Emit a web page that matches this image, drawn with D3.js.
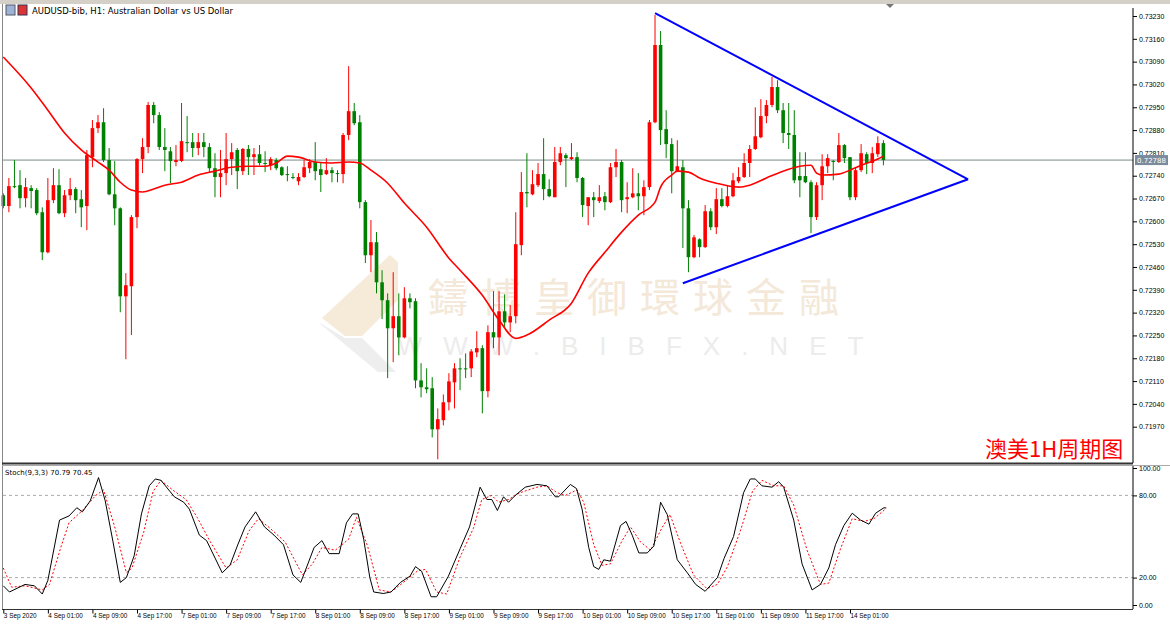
<!DOCTYPE html>
<html>
<head>
<meta charset="utf-8">
<script src="https://cdn.jsdelivr.net/npm/d3@7"></script>
<style>
  body { margin: 0; background: #fff; }
  svg { display: block; font-family: Tahoma, "DejaVu Sans", sans-serif; }
</style>
</head>
<body>
<svg width="1170" height="625"></svg>
<script>
// prices in points (1e-5), one bar per hour
let opens = [72680,72647,72708,72711,72671,72702,72696,72628,72505,72665,72711,72625,72680,72699,72668,72647,72797,72886,72904,72788,
  72683,72640,72370,72401,72613,72791,72828,72957,72926,72828,72815,72782,72785,72843,72843,72825,72843,72828,72763,72736,
  72748,72791,72819,72754,72822,72797,72806,72779,72772,72788,72766,72745,72736,72723,72736,72763,72782,72760,72745,72757,
  72748,72745,72865,72938,72904,72659,72496,72536,72413,72358,72272,72309,72244,72364,72355,72112,72091,72088,71962,71990,
  72045,72106,72149,72149,72149,72198,72211,72079,72260,72244,72324,72290,72309,72527,72690,72683,72711,72745,72699,72674,
  72782,72803,72791,72797,72733,72647,72674,72662,72677,72659,72766,72782,72668,72674,72686,72677,72705,72904,73141,72883,
  72837,72754,72766,72640,72490,72545,72521,72631,72582,72668,72647,72677,72723,72736,72779,72822,72858,72923,72957,73012,
  72941,72871,72865,72739,72739,72720,72613,72711,72769,72785,72782,72834,72797,72674,72757,72806,72779,72806,72840]
let closes = [72647,72708,72705,72671,72705,72693,72625,72505,72665,72711,72625,72680,72699,72665,72643,72803,72886,72904,72788,72683,
  72640,72370,72404,72613,72791,72828,72957,72926,72828,72819,72785,72788,72846,72840,72825,72843,72828,72763,72736,72748,
  72791,72812,72754,72822,72797,72806,72779,72776,72791,72763,72742,72742,72734,72736,72766,72782,72754,72742,72757,72748,
  72745,72865,72938,72901,72659,72496,72536,72413,72358,72272,72309,72244,72364,72352,72112,72091,72085,71962,71993,72045,
  72109,72149,72146,72146,72201,72211,72079,72260,72244,72324,72290,72309,72530,72690,72686,72714,72745,72699,72677,72782,
  72809,72794,72797,72733,72650,72674,72665,72674,72659,72766,72782,72665,72674,72686,72677,72705,72904,73141,72880,72837,
  72754,72769,72640,72490,72551,72521,72631,72582,72668,72647,72677,72726,72736,72779,72822,72861,72923,72957,73012,72941,
  72871,72865,72726,72726,72720,72613,72711,72769,72794,72782,72834,72794,72674,72757,72809,72779,72809,72840,72788]
let highs = [72686,72733,72788,72757,72733,72711,72702,72643,72733,72763,72760,72696,72733,72705,72696,72819,72911,72926,72947,72825,
  72785,72643,72441,72619,72794,72855,72966,72966,72935,72886,72828,72834,72963,72923,72871,72871,72871,72840,72809,72819,
  72871,72840,72825,72825,72834,72825,72834,72815,72797,72794,72769,72769,72748,72748,72788,72791,72843,72779,72794,72766,
  72757,72871,73076,72963,72926,72665,72604,72567,72450,72379,72444,72379,72398,72379,72364,72165,72149,72122,72026,72069,
  72134,72165,72180,72195,72208,72263,72220,72281,72386,72386,72376,72343,72628,72751,72809,72757,72779,72855,72729,72828,
  72828,72809,72840,72812,72736,72674,72690,72711,72690,72779,72822,72788,72720,72763,72748,72726,72911,73233,73184,72941,
  72855,72849,72788,72665,72558,72548,72650,72640,72702,72702,72711,72748,72766,72809,72834,72950,72975,72972,73043,73033,
  72963,72963,72941,72812,72812,72726,72720,72806,72806,72788,72871,72837,72797,72766,72837,72812,72828,72861,72849]
let lows = [72640,72628,72702,72640,72643,72640,72619,72481,72502,72656,72622,72613,72665,72625,72582,72573,72766,72871,72782,72680,
  72588,72321,72177,72251,72579,72748,72809,72901,72819,72754,72717,72769,72782,72812,72797,72803,72797,72748,72674,72674,
  72711,72742,72699,72742,72742,72742,72772,72751,72757,72757,72739,72723,72729,72711,72733,72748,72726,72690,72742,72720,
  72720,72717,72849,72895,72640,72472,72444,72379,72300,72119,72168,72189,72241,72333,72088,72060,72073,71937,71870,71974,
  72020,72026,72082,72119,72122,72183,72011,72060,72211,72189,72275,72260,72287,72496,72643,72680,72705,72665,72674,72674,
  72772,72705,72788,72720,72613,72588,72613,72656,72634,72656,72736,72628,72625,72671,72634,72619,72696,72901,72834,72794,
  72686,72751,72518,72444,72487,72490,72518,72573,72561,72643,72643,72674,72717,72733,72736,72819,72855,72901,72950,72932,
  72840,72822,72717,72674,72717,72564,72604,72665,72748,72726,72779,72779,72665,72665,72751,72745,72748,72797,72772]

// moving average, read as [bar, points]
let maPoints = [[0,73104],[5,73009],[8,72941],[11,72871],[14,72819],[17,72782],[19,72757],[21,72720],[23,72696],[25,72690],
  [27,72699],[29,72711],[32,72720],[35,72742],[38,72754],[41,72766],[44,72769],[47,72769],[49,72779],[51,72800],[53,72797],
  [56,72782],[59,72779],[62,72782],[64,72779],[66,72757],[69,72717],[72,72656],[76,72582],[80,72487],[82,72450],[86,72373],
  [89,72297],[92,72241],[94,72251],[98,72297],[102,72349],[105,72441],[108,72505],[111,72567],[114,72619],[117,72659],
  [118,72705],[120,72742],[121,72754],[123,72751],[125,72733],[128,72717],[132,72705],[134,72711],[137,72733],[140,72754],
  [143,72769],[145,72772],[146,72748],[147,72742],[150,72745],[152,72757],[154,72772],[157,72791],[158,72800]]

// stochastic %K and %D, read as [bar, value]
let stochK = [[0,14],[1.1,9.5],[3.9,15],[5.6,14],[7,8],[8,18],[10.1,62],[11.8,65],[13.2,71],[14.2,68],[15.6,76],[17.1,93],
  [18.3,76],[19.7,46],[21,16.5],[22.1,20],[23.5,36],[24.8,66.5],[26.2,87],[27.3,92],[28.3,91],[30.7,79],[32.4,75],[33.4,70],
  [35.2,51],[36.5,47],[39.3,23.5],[40.7,29],[42,43],[43.4,57],[45.3,68],[46.9,57],[48.6,51],[50.3,44],[52,22],[53.4,16.5],
  [54.4,27],[55.8,42],[57.2,47],[58.5,37.5],[60.3,37.5],[61.6,60],[62.7,66.5],[63.7,66.5],[64.7,48],[65.8,20],[66.5,9.5],
  [68.2,8.4],[69.6,9.5],[71.3,16.5],[73,21],[74,28],[75.1,24.6],[76.8,6],[77.8,6],[79.9,21],[82,41],[83.7,57],[85.6,86],
  [86.8,77],[87.7,77],[88.7,69],[89.8,79],[90.7,75],[91.9,80],[93.7,86],[95.8,88],[97.6,87],[99.1,79],[99.7,79],[101.8,88],
  [102.9,85],[103.9,70],[105.1,42],[106,28],[106.9,26],[107.8,33],[109,32],[110.8,58],[111.8,61],[112.9,51],[114.1,38],
  [115.6,38],[116.8,43],[118,75],[119.2,66],[121,33],[122.8,23.5],[124.3,15],[126,10],[128.2,20],[129.4,34],[131.1,50],
  [132.9,82],[134.1,92],[135,92],[136.2,87],[138,86],[139.2,90],[140.1,86],[141.9,62],[143.4,30],[145.2,11],[146.7,15],
  [148.2,27],[149.4,44],[150.9,58],[152.4,67],[153.9,62],[155.4,59],[156.6,67],[158.1,71],[158.5,70.79]]
let stochD = [[0,27],[1.5,13],[3.9,14],[7,11],[8.3,15],[10.4,43],[11.8,60],[14.2,69],[16.6,80],[18,84],[20,57],[22.1,23.5],
  [23.1,27],[25.2,53],[26.9,83],[28.3,91],[30.4,84],[32.8,77],[34.8,64],[36.9,48],[40,27],[42,33],[44.1,54],[45.8,63],
  [47.9,56],[50.6,46],[53.7,22],[55.5,30],[57.2,42],[59.6,40],[62,48],[63.4,64],[65.4,43],[67.5,11],[69.6,9.5],[72.3,18],
  [74.4,25],[75.8,26],[77.8,9.5],[79.6,8],[82,35],[84.4,56],[85.9,77],[87.7,80],[88.9,75],[90.7,77],[92.8,82],[95.8,86],
  [97.6,87],[99.4,82],[100.9,80],[103,84],[104.2,75],[106,44],[107.5,29],[109,30],[111.1,47],[112.6,57],[114.4,46],
  [116.2,40],[118.2,56],[119.7,66],[121.5,46],[123.9,22],[126.3,12],[128.2,15],[130,28],[132.4,55],[134.5,83],[136.2,91],
  [138.3,87],[140.1,87],[141.9,73],[144.3,40],[146.7,15],[148.2,16],[150.3,41],[152.4,63],[154.5,61],[156.3,63],[158.5,70.45]]

// triangle trend lines [bar, points]
let upperLine = [[117,73239],[173.2,72729]]
let lowerLine = [[122,72410],[173.2,72729]]

let priceTicks = [0.73230,0.73160,0.73090,0.73020,0.72950,0.72880,0.72810,0.72740,0.72670,0.72600,0.72530,0.72460,
  0.72390,0.72320,0.72250,0.72180,0.72110,0.72040,0.71970]
let stochTicks = [100,80,20,0]
let timeLabels = ['3 Sep 2020','4 Sep 01:00','4 Sep 09:00','4 Sep 17:00','7 Sep 01:00','7 Sep 09:00','7 Sep 17:00',
  '8 Sep 01:00','8 Sep 09:00','8 Sep 17:00','9 Sep 01:00','9 Sep 09:00','9 Sep 17:00','10 Sep 01:00','10 Sep 09:00',
  '10 Sep 17:00','11 Sep 01:00','11 Sep 09:00','11 Sep 17:00','14 Sep 01:00']
let lastPrice = 0.72788

let svg = d3.select('svg')
let plotRight = 1133

let xScale = d3.scaleLinear().domain([0, 158]).range([3.3, 883.4])
let yScale = d3.scaleLinear().domain([0.71970, 0.73230]).range([426.7, 16])
let sScale = d3.scaleLinear().domain([0, 100]).range([605, 468])
let pt = (v) => v / 100000

// frames
svg.append('rect').attr('x', 0).attr('y', 0).attr('width', 1170).attr('height', 625).attr('fill', '#fff')
svg.append('rect').attr('x', 0).attr('y', 0).attr('width', 1170).attr('height', 4).attr('fill', '#d4d0c8')

// watermark
let wm = svg.append('g')
wm.append('polygon').attr('points', '322,318 390,255 398,262 398,300 362,336 345,336').attr('fill', '#f6ead8')
wm.append('polygon').attr('points', '318,322 345,338 362,338 396,372 378,372').attr('fill', '#eeeeee')
wm.append('text').attr('x', 640).attr('y', 312).attr('text-anchor', 'middle')
  .attr('font-family', '"Noto Sans CJK TC", sans-serif').attr('font-size', 40)
  .attr('letter-spacing', 13).attr('fill', '#f4e8d8').text('鑄博皇御環球金融')
wm.append('text').attr('x', 641).attr('y', 355).attr('text-anchor', 'middle')
  .attr('font-family', 'Arial, "Liberation Sans", sans-serif').attr('font-size', 26)
  .attr('letter-spacing', 21).attr('fill', '#ececec').text('WWW.BIBFX.NET')

// current price line
svg.append('line').attr('x1', 3).attr('x2', plotRight).attr('y1', yScale(lastPrice)).attr('y2', yScale(lastPrice))
  .attr('stroke', '#7b8b8b').attr('stroke-width', 1)

// candles
let bars = opens.map((o, i) => ({ i: i, o: pt(o), c: pt(closes[i]), h: pt(highs[i]), l: pt(lows[i]) }))
let colorOf = (d) => d.c >= d.o ? '#ff0000' : '#008000'
let g = svg.append('g')
g.selectAll('line.wick').data(bars).enter().append('line')
  .attr('x1', (d) => xScale(d.i)).attr('x2', (d) => xScale(d.i))
  .attr('y1', (d) => yScale(d.h)).attr('y2', (d) => yScale(d.l))
  .attr('stroke', colorOf).attr('stroke-width', 1)
g.selectAll('rect').data(bars).enter().append('rect')
  .attr('x', (d) => xScale(d.i) - 1.8).attr('width', 3.6)
  .attr('y', (d) => yScale(Math.max(d.o, d.c)))
  .attr('height', (d) => Math.max(1, Math.abs(yScale(d.o) - yScale(d.c))))
  .attr('fill', colorOf)

// moving average
let maLine = d3.line().x((d) => xScale(d[0])).y((d) => yScale(pt(d[1]))).curve(d3.curveMonotoneX)
svg.append('path').attr('d', maLine(maPoints)).attr('fill', 'none').attr('stroke', '#ff0000').attr('stroke-width', 1.6)

// triangle
let tl = d3.line().x((d) => xScale(d[0])).y((d) => yScale(pt(d[1])))
;[upperLine, lowerLine].forEach((l) => {
  svg.append('path').attr('d', tl(l)).attr('fill', 'none').attr('stroke', '#0000ff').attr('stroke-width', 2)
})

// header
svg.append('rect').attr('x', 6).attr('y', 5).attr('width', 9).attr('height', 10).attr('fill', '#9db3d6').attr('stroke', '#556')
svg.append('rect').attr('x', 18).attr('y', 5).attr('width', 9).attr('height', 10).attr('fill', '#d33').attr('stroke', '#335')
svg.append('text').attr('x', 32).attr('y', 14).attr('font-size', 8.5).attr('fill', '#000')
  .text('AUDUSD-bib, H1:  Australian Dollar vs US Dollar')
svg.append('path').attr('d', 'M886,4 L894,4 L890,8 Z').attr('fill', '#777')

// red caption
svg.append('text').attr('x', 985).attr('y', 457).attr('font-family', '"Noto Sans CJK SC", sans-serif')
  .attr('font-size', 22).attr('fill', '#ff0000').text('澳美1H周期图')

// panel borders
svg.append('line').attr('x1', 2.5).attr('x2', 2.5).attr('y1', 4).attr('y2', 610).attr('stroke', '#888')
svg.append('line').attr('x1', 2).attr('x2', plotRight).attr('y1', 463.5).attr('y2', 463.5).attr('stroke', '#333').attr('stroke-width', 2)
svg.append('line').attr('x1', 2).attr('x2', 1170).attr('y1', 465.5).attr('y2', 465.5).attr('stroke', '#aaa')
svg.append('line').attr('x1', 2).attr('x2', plotRight).attr('y1', 609.5).attr('y2', 609.5).attr('stroke', '#333')

// price axis
let yAxis = d3.axisRight(yScale).tickValues(priceTicks).tickSize(4).tickFormat(d3.format('.5f'))
let ya = svg.append('g').attr('transform', 'translate(' + plotRight + ',0)').call(yAxis)
ya.select('.domain').attr('d', 'M0,8V463').attr('stroke', '#000')
ya.selectAll('text').attr('font-size', 7).attr('fill', '#000').attr('x', 6)
svg.append('rect').attr('x', plotRight + 2).attr('y', yScale(lastPrice) - 5).attr('width', 33).attr('height', 10).attr('fill', '#7b8b9b')
svg.append('text').attr('x', plotRight + 4).attr('y', yScale(lastPrice) + 3).attr('font-size', 7).attr('fill', '#fff')
  .text(d3.format('.5f')(lastPrice))

// stochastic panel
stochTicks.filter((v) => v == 80 || v == 20).forEach((v) => {
  svg.append('line').attr('x1', 3).attr('x2', plotRight).attr('y1', sScale(v)).attr('y2', sScale(v))
    .attr('stroke', '#aaa').attr('stroke-dasharray', '3,3')
})
let sLine = d3.line().x((d) => xScale(d[0])).y((d) => sScale(d[1]))
svg.append('path').attr('d', sLine(stochD)).attr('fill', 'none').attr('stroke', '#ff0000').attr('stroke-width', 1).attr('stroke-dasharray', '2,2')
svg.append('path').attr('d', sLine(stochK)).attr('fill', 'none').attr('stroke', '#000').attr('stroke-width', 1)
svg.append('text').attr('x', 5).attr('y', 475).attr('font-size', 7).attr('fill', '#000').text('Stoch(9,3,3) 70.79 70.45')

let sAxis = d3.axisRight(sScale).tickValues(stochTicks).tickSize(4).tickFormat(d3.format('.2f'))
let sa = svg.append('g').attr('transform', 'translate(' + plotRight + ',0)').call(sAxis)
sa.select('.domain').attr('d', 'M0,466V609').attr('stroke', '#000')
sa.selectAll('text').attr('font-size', 7).attr('fill', '#000').attr('x', 6)

// time axis
let timeIdx = timeLabels.map((t, k) => k * 8)
let xAxis = d3.axisBottom(xScale).tickValues(timeIdx).tickSize(4).tickFormat((d) => timeLabels[d / 8])
let xa = svg.append('g').attr('transform', 'translate(0,609.5)').call(xAxis)
xa.select('.domain').remove()
xa.selectAll('text').attr('font-size', 6.4).attr('fill', '#000').attr('text-anchor', 'start').attr('x', 0).attr('dy', '0.3em')
xa.selectAll('line').attr('stroke', '#000')
</script>
</body>
</html>
